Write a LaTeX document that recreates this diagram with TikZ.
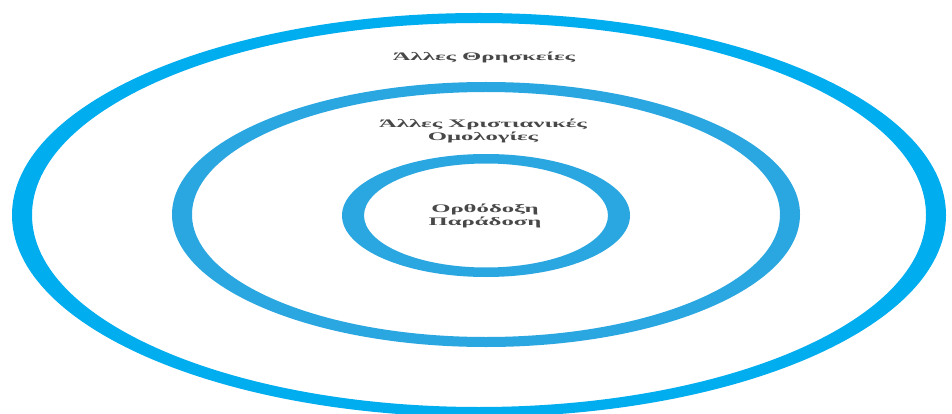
\documentclass[tikz,border=0pt]{standalone}
\usepackage{fontspec}
\setmainfont{Liberation Serif}
\definecolor{ringout}{RGB}{0,173,238}
\definecolor{ringin}{RGB}{42,167,224}
\definecolor{txtgray}{RGB}{72,72,72}
\newcommand{\widetxt}[1]{\scalebox{2.15}[1]{#1}}
\tikzset{
  lbl/.style={font=\bfseries\fontsize{11.5}{13}\selectfont, text=txtgray, align=center, inner sep=0pt},
}
\begin{document}
\begin{tikzpicture}[x=1pt,y=-1pt]
\useasboundingbox (0,0) rectangle (952,414);
\clip (0,0) rectangle (952,414);
\fill[white] (0,0) rectangle (952,414);
% outer ring
\fill[ringout, even odd rule]
  (479,215) ellipse [x radius=467pt, y radius=202pt]
  (479,215) ellipse [x radius=447pt, y radius=192pt];
% middle ring
\fill[ringin, even odd rule]
  (486,214.5) ellipse [x radius=314pt, y radius=132.5pt]
  (486,214.5) ellipse [x radius=294pt, y radius=122.5pt];
% inner ring
\fill[ringin, even odd rule]
  (486,215.5) ellipse [x radius=144pt, y radius=61.5pt]
  (486,215.5) ellipse [x radius=122pt, y radius=52pt];
\node[lbl] (other) at (484,57) {\widetxt{Άλλες Θρησκείες}};
\node[lbl] (christ) at (483,131) {\widetxt{Άλλες Χριστιανικές}\\\widetxt{Ομολογίες}};
\node[lbl] (orth) at (485,216) {\widetxt{Ορθόδοξη}\\\widetxt{Παράδοση}};
\end{tikzpicture}
\end{document}
